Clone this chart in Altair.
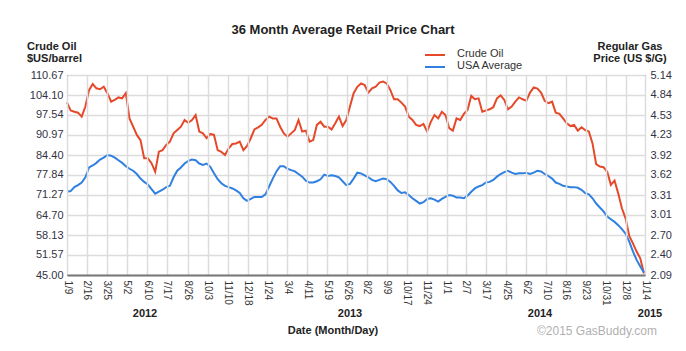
import altair as alt
import pandas as pd

# ---------------- data ----------------
START = "2012-01-09"          # weekly samples
OIL = [
    101.7, 99.0, 98.6, 98.3, 97.0, 100.3, 105.7, 107.7, 106.3, 106.0,
    106.8, 104.7, 101.9, 102.5, 103.3, 103.0, 104.7, 96.4, 93.7, 91.0,
    89.3, 83.3, 83.3, 81.7, 78.9, 85.5, 86.0, 87.7, 88.8, 91.5,
    92.6, 93.7, 95.9, 95.0, 95.9, 97.5, 92.1, 91.5, 89.9, 91.3,
    91.0, 86.0, 85.4, 84.4, 86.6, 88.0, 88.2, 88.8, 86.0, 87.4,
    89.9, 92.8, 93.5, 94.3, 95.9, 97.0, 96.4, 96.4, 93.7, 91.5,
    90.4, 91.5, 92.6, 95.9, 92.1, 92.4, 88.8, 89.3, 94.3, 95.3,
    93.7, 93.7, 92.8, 94.8, 97.0, 93.9, 95.9, 100.3, 104.7, 106.8,
    107.9, 107.4, 104.9, 106.3, 106.8, 108.2, 108.5, 107.9, 105.7, 102.7,
    102.7, 101.6, 100.3, 97.0, 95.9, 94.3, 93.9, 94.6, 92.1, 95.3,
    97.5, 96.4, 98.6, 97.5, 93.2, 92.4, 96.4, 95.9, 97.9, 99.2,
    103.8, 102.7, 103.0, 98.6, 99.0, 99.4, 100.1, 103.0, 104.0, 102.5,
    99.4, 100.3, 101.9, 103.3, 102.7, 102.2, 104.9, 106.6, 106.2, 104.9,
    102.2, 101.4, 101.9, 98.3, 97.9, 96.4, 94.8, 93.9, 94.3, 92.4,
    93.5, 92.6, 92.1, 88.2, 81.4, 80.6, 80.4, 78.9, 74.6, 76.0,
    71.8, 66.9, 63.6, 57.8, 55.4, 52.7, 50.5, 45.5,
]
GAS = [
    3.36, 3.37, 3.43, 3.46, 3.50, 3.58, 3.73, 3.76, 3.80, 3.85,
    3.88, 3.92, 3.91, 3.88, 3.84, 3.80, 3.75, 3.71, 3.68, 3.63,
    3.56, 3.51, 3.47, 3.40, 3.33, 3.36, 3.39, 3.43, 3.45, 3.58,
    3.68, 3.73, 3.79, 3.83, 3.85, 3.84, 3.79, 3.77, 3.79, 3.74,
    3.64, 3.55, 3.49, 3.45, 3.43, 3.41, 3.38, 3.34, 3.26, 3.22,
    3.25, 3.28, 3.28, 3.28, 3.32, 3.44, 3.56, 3.67, 3.75, 3.75,
    3.71, 3.69, 3.67, 3.63, 3.59, 3.53, 3.50, 3.50, 3.52, 3.55,
    3.62, 3.60, 3.61, 3.60, 3.58, 3.52, 3.46, 3.48, 3.56, 3.65,
    3.64, 3.61, 3.58, 3.54, 3.52, 3.54, 3.56, 3.55, 3.51, 3.45,
    3.38, 3.34, 3.35, 3.31, 3.26, 3.22, 3.18, 3.20, 3.25, 3.26,
    3.24, 3.21, 3.25, 3.28, 3.31, 3.30, 3.27, 3.27, 3.26, 3.30,
    3.36, 3.41, 3.44, 3.46, 3.50, 3.51, 3.54, 3.59, 3.63, 3.66,
    3.68, 3.65, 3.63, 3.64, 3.64, 3.65, 3.63, 3.65, 3.68, 3.67,
    3.63, 3.60, 3.56, 3.50, 3.48, 3.45, 3.44, 3.43, 3.43, 3.42,
    3.39, 3.34, 3.32, 3.26, 3.18, 3.12, 3.06, 2.98, 2.94, 2.90,
    2.85, 2.79, 2.72, 2.60, 2.45, 2.32, 2.22, 2.13,
]
OIL_TICKS = [45.00, 51.57, 58.13, 64.70, 71.27, 77.84, 84.40, 90.97, 97.54, 104.10, 110.67]
GAS_TICKS = [2.09, 2.40, 2.70, 3.01, 3.31, 3.62, 3.92, 4.23, 4.53, 4.84, 5.14]
X_TICKS = ["2012-01-09", "2012-02-16", "2012-03-25", "2012-05-02", "2012-06-10",
           "2012-07-17", "2012-08-26", "2012-10-03", "2012-11-10", "2012-12-18",
           "2013-01-24", "2013-03-04", "2013-04-11", "2013-05-19", "2013-06-26",
           "2013-08-02", "2013-09-09", "2013-10-17", "2013-11-24", "2014-01-01",
           "2014-02-07", "2014-03-17", "2014-04-25", "2014-06-02", "2014-07-10",
           "2014-08-16", "2014-09-23", "2014-10-31", "2014-12-08", "2015-01-14"]
YEARS = ["2012", "2013", "2014", "2015"]
SERIES = ["Crude Oil", "USA Average"]

# ---------------- styling ----------------
FONT = "Liberation Sans"
OIL_COLOR = "#e5492a"
GAS_COLOR = "#2f80e0"
W, H = 578, 200


def dt(s):
    y, m, d = (int(v) for v in s.split("-"))
    return alt.DateTime(year=y, month=m, date=d)


dates = pd.date_range(start=START, periods=len(OIL), freq="7D")
df = pd.DataFrame({"date": dates, "oil": OIL, "gas": GAS})

x_enc = alt.X(
    "date:T",
    scale=alt.Scale(domain=[dt(X_TICKS[0]), dt(X_TICKS[-1])], nice=False),
    axis=alt.Axis(
        values=[dt(s) for s in X_TICKS], format="%-m/%-d", labelAngle=90,
        labelFontSize=10, labelColor="#333", labelPadding=5, labelFont=FONT,
        ticks=False, grid=True, gridColor="#dcdcdc", gridWidth=1.5,
        domainColor="#777", domainWidth=2, zindex=1, title=None,
        labelOverlap=False, labelFlush=False, labelBound=False,
    ),
)

oil_line = alt.Chart(df).mark_line(color=OIL_COLOR, strokeWidth=2).encode(
    x=x_enc,
    y=alt.Y("oil:Q",
            scale=alt.Scale(domain=[OIL_TICKS[0], OIL_TICKS[-1]], nice=False, zero=False),
            axis=alt.Axis(orient="left", values=OIL_TICKS, format=".2f", title=None,
                          ticks=False, domain=False, grid=True, gridColor="#dcdcdc",
                          gridWidth=1.5, labelFontSize=11, labelColor="#333344",
                          labelFont=FONT, labelPadding=4, labelOverlap=False,
                          labelBound=False, labelFlush=False)),
)

gas_line = alt.Chart(df).mark_line(color=GAS_COLOR, strokeWidth=2).encode(
    x=x_enc,
    y=alt.Y("gas:Q",
            scale=alt.Scale(domain=[GAS_TICKS[0], GAS_TICKS[-1]], nice=False, zero=False),
            axis=alt.Axis(orient="right", values=GAS_TICKS, format=".2f", title=None,
                          ticks=False, domain=False, grid=False, labelFontSize=11,
                          labelColor="#333344", labelFont=FONT, labelPadding=5,
                          labelOverlap=False, labelBound=False, labelFlush=False)),
)

one = pd.DataFrame({"a": [0]})


def text(t, x, y, size=11, weight="normal", color="#222", align="center"):
    return alt.Chart(pd.DataFrame({"t": [t]})).mark_text(
        align=align, baseline="middle", fontSize=size, fontWeight=weight,
        color=color, font=FONT,
    ).encode(text="t:N", x=alt.value(x), y=alt.value(y))


layers = [
    text("36 Month Average Retail Price Chart", 276, -45, 13, "bold", "#222"),
    text("Crude Oil", -40, -28, 11, "bold", "#222", "left"),
    text("$US/barrel", -40, -16, 11, "bold", "#222", "left"),
    text("Regular Gas", 563, -28, 11, "bold", "#222"),
    text("Price (US $/G)", 563, -16, 11, "bold", "#222"),
    text("Date (Month/Day)", 266, 256, 11, "bold", "#222"),
    text("©2015 GasBuddy.com", 530, 256, 12, "normal", "#b0b0b0"),
]
for yr, xp in zip(YEARS, [78, 283, 473, 583]):
    layers.append(text(yr, xp, 239, 11, "bold", "#222"))

for name, col, yp in zip(SERIES, [OIL_COLOR, GAS_COLOR], [-20, -8]):
    layers.append(
        alt.Chart(one).mark_rule(color=col, strokeWidth=2).encode(
            x=alt.value(358), x2=alt.value(378), y=alt.value(yp))
    )
    layers.append(text(name, 390, yp - 1, 11, "normal", "#333", "left"))

chart = alt.layer(oil_line, gas_line, *layers).resolve_scale(
    y="independent"
).properties(
    width=W, height=H,
    autosize=alt.AutoSizeParams(type="none"),
    padding={"left": 67, "top": 75, "right": 41, "bottom": 76},
    background="white",
).configure_view(stroke="#222", strokeWidth=1)

chart.save("out.html", embed_options={"renderer": "svg", "actions": False})
